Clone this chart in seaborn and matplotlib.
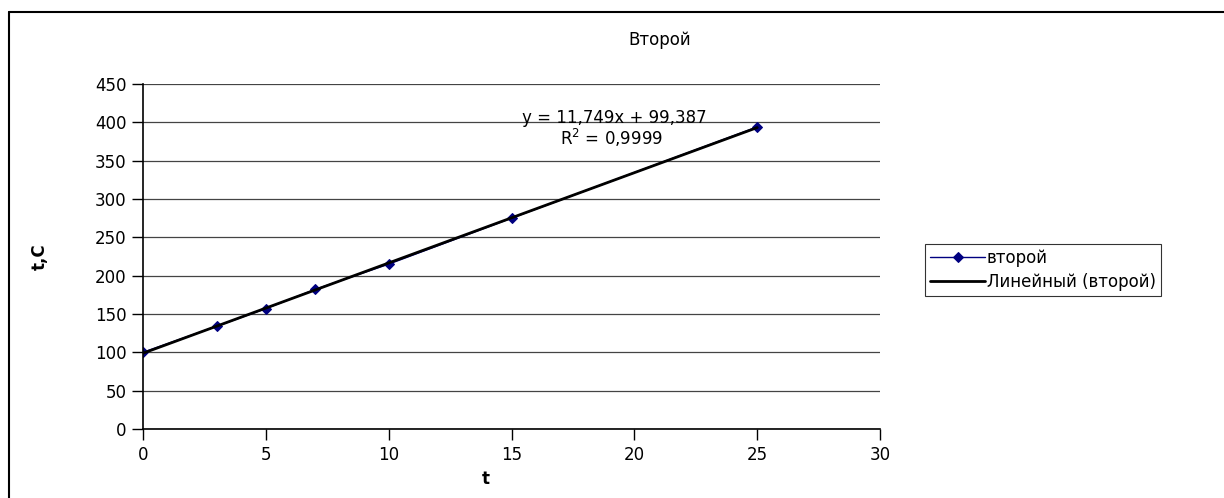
"""
Recreate the 'Второй' chart: t,C vs t with a linear trendline.
"""

import pandas as pd
import matplotlib.pyplot as plt
import seaborn as sns
from matplotlib.lines import Line2D

# data
t_values = [0, 3, 5, 7, 10, 15, 25]
temp_values = [100, 134, 157, 182, 215, 275, 394]
series_name = 'второй'
trend_name = 'Линейный (второй)'
y_ticks = [0, 50, 100, 150, 200, 250, 300, 350, 400, 450]
x_ticks = [0, 5, 10, 15, 20, 25, 30]

sns.set_style("white")
plt.rcParams['font.family'] = ['DejaVu Sans']
plt.rcParams['text.color'] = 'black'
plt.rcParams['axes.labelcolor'] = 'black'
plt.rcParams['xtick.color'] = 'black'
plt.rcParams['ytick.color'] = 'black'

df = pd.DataFrame({'t': t_values, 'temp': temp_values})

fig = plt.figure(figsize=(12.24, 4.98), dpi=100)
ax = fig.add_axes([0.1168, 0.1386, 0.6022, 0.6927])

# data series, thin navy line with diamond markers
sns.lineplot(data=df, x='t', y='temp', ax=ax, color='#000080', linewidth=1,
             marker='D', markersize=5, markeredgecolor='#000080',
             label=series_name)

# linear trendline
sns.regplot(data=df, x='t', y='temp', ax=ax, scatter=False, ci=None,
            truncate=True, color='black', line_kws={'linewidth': 2},
            label=trend_name)

ax.set_xlim(0, 30)
ax.set_ylim(0, 450)
ax.set_xticks(x_ticks)
ax.set_yticks(y_ticks)
ax.tick_params(axis='both', labelsize=12, direction='out', length=8,
               width=1, color='black', labelcolor='black', pad=4,
               left=True, bottom=True)
ax.grid(axis='y', color='#444444', linewidth=0.9)
ax.set_axisbelow(True)

for side in ['top', 'right']:
    ax.spines[side].set_visible(False)
for side in ['left', 'bottom']:
    ax.spines[side].set_color('black')
    ax.spines[side].set_linewidth(1.2)

ax.set_xlabel('t', fontsize=12, fontweight='bold', color='black')
ax.xaxis.set_label_coords(0.465, -0.12)
ax.set_ylabel('t,C', fontsize=12, fontweight='bold', color='black')
ax.yaxis.set_label_coords(-0.128, 0.5)

# trendline equation
ax.text(0.64, 0.901, 'y = 11,749x + 99,387', transform=ax.transAxes,
        fontsize=12, ha='center', va='center', color='black')
ax.text(0.636, 0.843, 'R$^2$ = 0,9999', transform=ax.transAxes,
        fontsize=12, ha='center', va='center', color='black')

fig.text(0.539, 0.92, 'Второй', fontsize=12, ha='center', va='center',
         color='black')

leg = ax.legend(loc='center left', bbox_to_anchor=(1.061, 0.461), fontsize=12,
                frameon=True, fancybox=False, edgecolor='black',
                borderpad=0.3, handlelength=3.3, handletextpad=0.1,
                labelspacing=0.35, borderaxespad=0)
leg.get_frame().set_linewidth(0.8)
for txt in leg.get_texts():
    txt.set_color('black')

# outer chart border (only left and top edges are visible in the picture)
fig.add_artist(Line2D([0.0074, 0.0074], [0.0, 0.976], transform=fig.transFigure,
                      color='black', linewidth=1.5))
fig.add_artist(Line2D([0.0074, 1.0], [0.976, 0.976], transform=fig.transFigure,
                      color='black', linewidth=1.5))

plt.savefig('out.png', dpi=100)
plt.close()
